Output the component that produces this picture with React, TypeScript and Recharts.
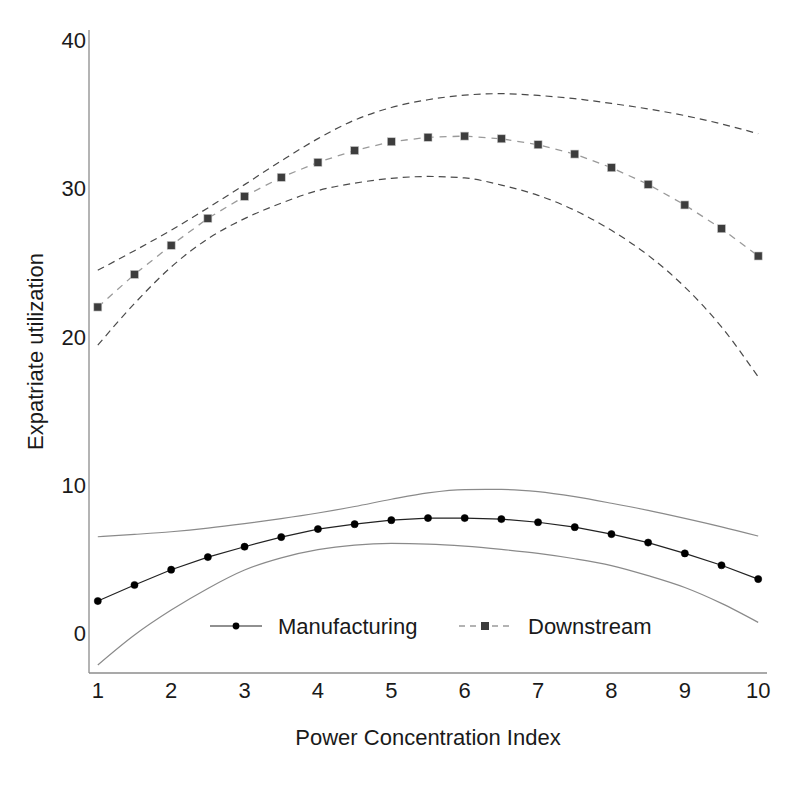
import { LineChart, Line, XAxis, YAxis } from 'recharts';

const powerIndex = [1, 1.5, 2, 2.5, 3, 3.5, 4, 4.5, 5, 5.5, 6, 6.5, 7, 7.5, 8, 8.5, 9, 9.5, 10];

const manufacturing = [2.19, 3.27, 4.3, 5.15, 5.85, 6.5, 7.04, 7.37, 7.64, 7.78, 7.78, 7.71, 7.5, 7.17, 6.7, 6.13, 5.4, 4.6, 3.67];
const manufacturingUpper = [6.52, 6.68, 6.86, 7.1, 7.4, 7.74, 8.12, 8.56, 9.05, 9.48, 9.7, 9.71, 9.56, 9.22, 8.78, 8.3, 7.76, 7.19, 6.57];
const manufacturingLower = [-2.12, -0.1, 1.58, 3.04, 4.28, 5.1, 5.65, 5.96, 6.07, 6.03, 5.89, 5.67, 5.4, 5.04, 4.58, 3.9, 3.1, 2.03, 0.75];

const downstream = [22.0, 24.2, 26.16, 27.98, 29.46, 30.74, 31.75, 32.55, 33.14, 33.44, 33.52, 33.34, 32.94, 32.31, 31.39, 30.27, 28.88, 27.28, 25.44];
const downstreamUpper = [24.48, 25.8, 27.18, 28.68, 30.25, 31.85, 33.35, 34.6, 35.45, 35.97, 36.28, 36.38, 36.26, 36.04, 35.72, 35.35, 34.9, 34.34, 33.68];
const downstreamLower = [19.43, 22.24, 24.7, 26.6, 27.96, 29.0, 29.85, 30.35, 30.67, 30.8, 30.7, 30.22, 29.53, 28.52, 27.17, 25.49, 23.35, 20.66, 17.29];

const xTicks = [1, 2, 3, 4, 5, 6, 7, 8, 9, 10];
const yTicks = [0, 10, 20, 30, 40];

const FONT = 'Arial, "Liberation Sans", Helvetica, sans-serif';
const TEXT = '#1a1a1a';

const chartData = powerIndex.map((x, i) => ({
  x,
  mfg: manufacturing[i],
  mfgHi: manufacturingUpper[i],
  mfgLo: manufacturingLower[i],
  ds: downstream[i],
  dsHi: downstreamUpper[i],
  dsLo: downstreamLower[i],
}));

const SquareDot = (props: any) => {
  const { cx, cy, index } = props;
  if (cx == null || cy == null) return <g key={`sq-${index}`} />;
  return (
    <rect
      key={`sq-${index}`}
      x={cx - 4}
      y={cy - 4}
      width={8}
      height={8}
      fill="#3d3d3d"
      stroke="#c8c8c8"
      strokeWidth={0.6}
    />
  );
};

const YTitle = (props: any) => {
  const { viewBox } = props;
  const cy = viewBox.y + viewBox.height / 2;
  const cx = 35;
  return (
    <text
      x={cx}
      y={cy}
      transform={`rotate(-90, ${cx}, ${cy})`}
      textAnchor="middle"
      dominantBaseline="central"
      fontSize={22}
      fontFamily={FONT}
      fill={TEXT}
    >
      Expatriate utilization
    </text>
  );
};

const XTitle = (props: any) => {
  const { viewBox } = props;
  const cx = viewBox.x + viewBox.width / 2;
  return (
    <text x={cx} y={745} textAnchor="middle" fontSize={22} fontFamily={FONT} fill={TEXT}>
      Power Concentration Index
    </text>
  );
};

export default function App() {
  return (
    <div style={{ position: 'absolute', left: 0, top: 0, width: 794, height: 798, background: '#fff' }}>
      <LineChart
        width={794}
        height={798}
        data={chartData}
        margin={{ top: 30, right: 27, bottom: 0, left: 0 }}
      >
        <XAxis
          dataKey="x"
          type="number"
          domain={[0.88, 10.12]}
          ticks={xTicks}
          height={125}
          tickLine={false}
          tickSize={0}
          tickMargin={9}
          stroke="#8c8c8c"
          strokeWidth={1.3}
          tick={{ fill: TEXT, fontSize: 22, fontFamily: FONT }}
          label={<XTitle />}
        />
        <YAxis
          type="number"
          domain={[-2.66, 40.67]}
          ticks={yTicks}
          width={89}
          tickLine={false}
          tickSize={0}
          tickMargin={3}
          stroke="#8c8c8c"
          strokeWidth={1.3}
          tick={{ fill: TEXT, fontSize: 22, fontFamily: FONT }}
          label={<YTitle />}
        />
        <Line
          type="monotone"
          dataKey="mfgHi"
          stroke="#8a8a8a"
          strokeWidth={1.2}
          dot={false}
          isAnimationActive={false}
        />
        <Line
          type="monotone"
          dataKey="mfgLo"
          stroke="#8a8a8a"
          strokeWidth={1.2}
          dot={false}
          isAnimationActive={false}
        />
        <Line
          type="linear"
          dataKey="mfg"
          stroke="#222"
          strokeWidth={1.2}
          dot={{ r: 3.6, fill: '#000', stroke: '#000', strokeWidth: 0.5 }}
          isAnimationActive={false}
        />
        <Line
          type="monotone"
          dataKey="dsHi"
          stroke="#4a4a4a"
          strokeWidth={1.2}
          strokeDasharray="7 5"
          dot={false}
          isAnimationActive={false}
        />
        <Line
          type="monotone"
          dataKey="dsLo"
          stroke="#4a4a4a"
          strokeWidth={1.2}
          strokeDasharray="7 5"
          dot={false}
          isAnimationActive={false}
        />
        <Line
          type="linear"
          dataKey="ds"
          stroke="#9a9a9a"
          strokeWidth={1.3}
          strokeDasharray="7 6"
          dot={<SquareDot />}
          isAnimationActive={false}
        />
      </LineChart>

      {/* legend overlay */}
      <svg
        width={794}
        height={40}
        style={{ position: 'absolute', left: 0, top: 606, pointerEvents: 'none' }}
      >
        <line x1={210} y1={20} x2={262} y2={20} stroke="#222" strokeWidth={1.2} />
        <circle cx={236} cy={20} r={3.4} fill="#000" />
        <text x={278} y={28} fontSize={22} fontFamily={FONT} fill={TEXT}>
          Manufacturing
        </text>
        <line x1={459} y1={20} x2={512} y2={20} stroke="#9a9a9a" strokeWidth={1.3} strokeDasharray="6 5" />
        <rect x={481} y={16} width={8} height={8} fill="#3d3d3d" />
        <text x={528} y={28} fontSize={22} fontFamily={FONT} fill={TEXT}>
          Downstream
        </text>
      </svg>
    </div>
  );
}
